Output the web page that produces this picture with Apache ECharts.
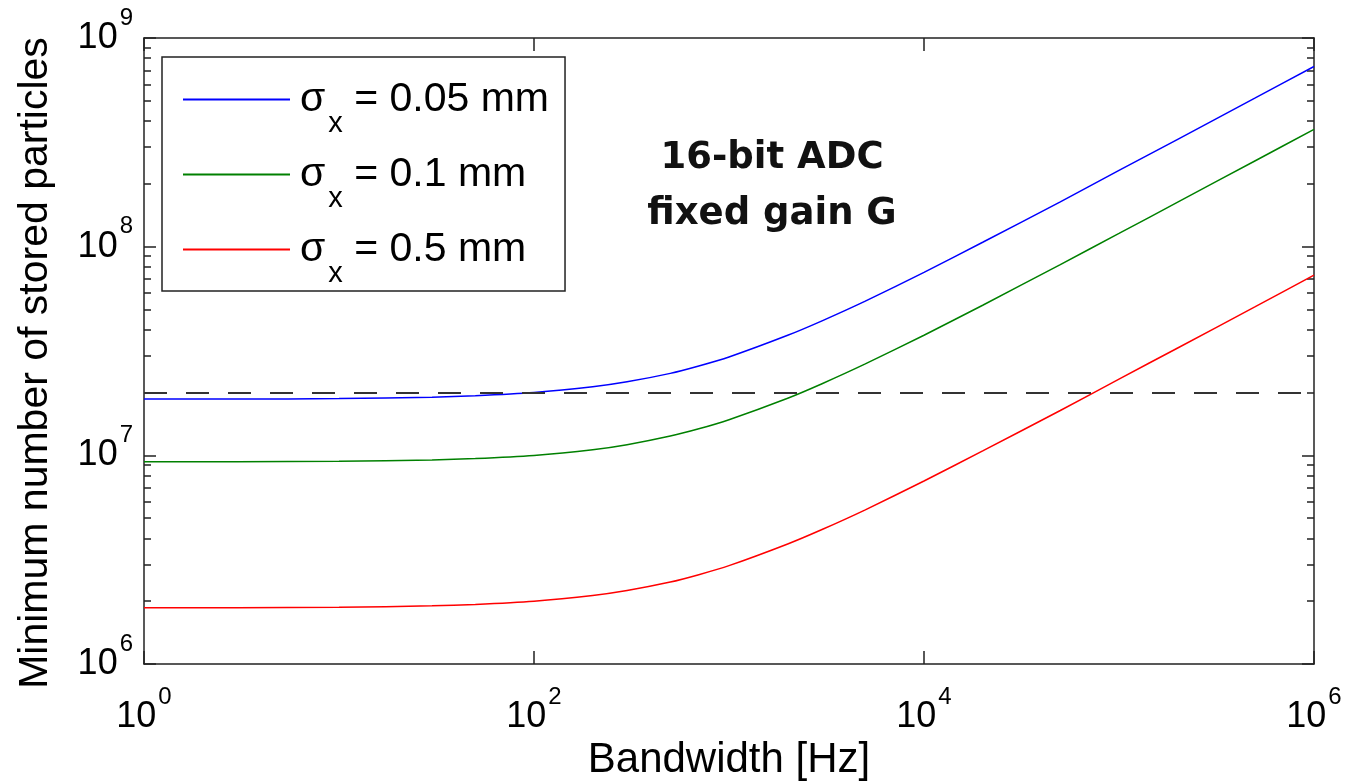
<!DOCTYPE html>
<html>
<head>
<meta charset="utf-8">
<title>Minimum number of stored particles vs bandwidth</title>
<script src="https://cdn.jsdelivr.net/npm/echarts@6/dist/echarts.min.js"></script>
<style>
  html, body { margin: 0; padding: 0; background: #fff; }
  #chart { width: 1349px; height: 781px; }
</style>
</head>
<body>
<div id="chart"></div>
<script>
// bandwidth samples [Hz] (log x axis)
const bandwidth = [1, 3, 10, 30, 50, 100, 200, 300, 500, 700, 1000, 2000, 3000, 5000, 1e4, 2e4, 5e4, 1e5, 2e5, 5e5, 1e6]
// minimum number of stored particles
const sigma005 = [1.86e7, 1.86e7, 1.87e7, 1.90e7, 1.93e7, 2.00e7, 2.13e7, 2.25e7, 2.47e7, 2.68e7, 2.96e7, 3.76e7, 4.41e7, 5.48e7, 7.53e7, 1.05e8, 1.64e8, 2.32e8, 3.27e8, 5.16e8, 7.30e8]
const sigma01 = [9.31e6, 9.32e6, 9.37e6, 9.51e6, 9.65e6, 9.99e6, 1.063e7, 1.124e7, 1.237e7, 1.34e7, 1.482e7, 1.878e7, 2.204e7, 2.742e7, 3.764e7, 5.24e7, 8.21e7, 1.157e8, 1.634e8, 2.581e8, 3.65e8]
const sigma05 = [1.86e6, 1.86e6, 1.87e6, 1.90e6, 1.93e6, 2.00e6, 2.13e6, 2.25e6, 2.47e6, 2.68e6, 2.96e6, 3.76e6, 4.41e6, 5.48e6, 7.53e6, 1.05e7, 1.64e7, 2.32e7, 3.27e7, 5.16e7, 7.30e7]
const seriesNames = ['0.05 mm', '0.1 mm', '0.5 mm']
// dashed reference level
const threshold = 2e7

// tick values
const xTicks = [1, 1e2, 1e4, 1e6]
const yTicks = [1e6, 1e7, 1e8, 1e9]
const yMinorTicks = [2e6, 3e6, 4e6, 5e6, 6e6, 7e6, 8e6, 9e6,
  2e7, 3e7, 4e7, 5e7, 6e7, 7e7, 8e7, 9e7,
  2e8, 3e8, 4e8, 5e8, 6e8, 7e8, 8e8, 9e8]

const FONT = '"Liberation Sans", Arial, Helvetica, sans-serif'
const AXIS_COLOR = '#222'

const pairs = (ys) => bandwidth.map((x, i) => [x, ys[i]])

// 10^n labels with a raised exponent
const powLabel = {
  formatter: (v) => '{b|10}{s|' + Math.round(Math.log10(v)) + '}',
  rich: {
    b: { fontSize: 36, lineHeight: 40, fontFamily: FONT, color: '#000', verticalAlign: 'middle' },
    s: { fontSize: 24, lineHeight: 24, fontFamily: FONT, color: '#000', padding: [0, 0, 40, 2], verticalAlign: 'middle' }
  }
}

const tickStyle = (len, values) => ({
  show: true,
  inside: true,
  length: len,
  customValues: values,
  lineStyle: { color: AXIS_COLOR, width: 1.5 }
})

const xAxisBase = {
  type: 'log',
  logBase: 10,
  min: 1,
  max: 1e6,
  splitLine: { show: false },
  axisLine: { show: true, onZero: false, lineStyle: { color: AXIS_COLOR, width: 1.5 } },
  axisTick: tickStyle(13, xTicks)
}

const yAxisBase = {
  type: 'log',
  logBase: 10,
  min: 1e6,
  max: 1e9,
  splitLine: { show: false },
  axisLine: { show: true, onZero: false, lineStyle: { color: AXIS_COLOR, width: 1.5 } },
  axisTick: tickStyle(12, yTicks)
}

const chart = echarts.init(document.getElementById('chart'), null, { renderer: 'canvas' })

chart.setOption({
  backgroundColor: '#fff',
  animation: false,
  grid: {
    left: 144,
    right: 35,
    top: 38,
    bottom: 117,
    containLabel: false,
    outerBoundsMode: 'none'
  },
  legend: {
    orient: 'vertical',
    left: 162,
    top: 57,
    align: 'left',
    selectedMode: false,
    icon: 'rect',
    itemWidth: 107,
    itemHeight: 2,
    itemGap: -2,
    padding: [4, 16, 3, 21],
    borderColor: AXIS_COLOR,
    borderWidth: 1.5,
    backgroundColor: '#fff',
    data: seriesNames,
    formatter: (name) => '{g|σ}{x|x}{t| = ' + name + '}',
    textStyle: {
      color: '#000',
      rich: {
        g: { fontSize: 41, lineHeight: 44, fontFamily: FONT, color: '#000', padding: [0, 0, 0, 5], verticalAlign: 'middle' },
        x: { fontSize: 29, lineHeight: 28, fontFamily: FONT, color: '#000', padding: [48, 0, 0, 3], verticalAlign: 'middle' },
        t: { fontSize: 41, lineHeight: 44, fontFamily: FONT, color: '#000', verticalAlign: 'middle' }
      }
    }
  },
  xAxis: [
    Object.assign({}, xAxisBase, {
      position: 'bottom',
      name: 'Bandwidth [Hz]',
      nameLocation: 'middle',
      nameGap: 75,
      nameMoveOverlap: false,
      nameTextStyle: { fontSize: 42, fontFamily: FONT, color: '#000' },
      axisLabel: Object.assign({ show: true, margin: 33, customValues: xTicks }, powLabel)
    }),
    Object.assign({}, xAxisBase, {
      position: 'top',
      axisLabel: { show: false }
    })
  ],
  yAxis: [
    Object.assign({}, yAxisBase, {
      position: 'left',
      name: 'Minimum number of stored particles',
      nameLocation: 'middle',
      nameGap: 88,
      nameRotate: 90,
      nameMoveOverlap: false,
      nameTextStyle: { fontSize: 41, fontFamily: FONT, color: '#000', padding: [0, 24, 0, 0] },
      axisLabel: Object.assign({ show: true, margin: 11, customValues: yTicks }, powLabel)
    }),
    Object.assign({}, yAxisBase, {
      position: 'right',
      axisLabel: { show: false }
    }),
    // minor decade ticks, left and right
    Object.assign({}, yAxisBase, {
      position: 'left',
      axisLine: { show: false },
      axisTick: tickStyle(7, yMinorTicks),
      axisLabel: { show: false }
    }),
    Object.assign({}, yAxisBase, {
      position: 'right',
      axisLine: { show: false },
      axisTick: tickStyle(7, yMinorTicks),
      axisLabel: { show: false }
    })
  ],
  graphic: [
    {
      type: 'text',
      x: 772,
      y: 186,
      silent: true,
      style: {
        text: '16-bit ADC\nfixed gain G',
        align: 'center',
        verticalAlign: 'middle',
        font: 'bold 37px "Comic Sans MS", "DejaVu Sans", sans-serif',
        lineHeight: 56,
        fill: '#111'
      }
    }
  ],
  series: [
    {
      name: seriesNames[0],
      type: 'line',
      data: pairs(sigma005),
      smooth: 0.2,
      symbol: 'none',
      color: '#0000ff',
      lineStyle: { width: 1.5 },
      markLine: {
        silent: true,
        symbol: 'none',
        label: { show: false },
        lineStyle: { color: '#333', width: 2, type: [23, 19] },
        data: [{ yAxis: threshold }]
      }
    },
    {
      name: seriesNames[1],
      type: 'line',
      data: pairs(sigma01),
      smooth: 0.2,
      symbol: 'none',
      color: '#008000',
      lineStyle: { width: 1.5 }
    },
    {
      name: seriesNames[2],
      type: 'line',
      data: pairs(sigma05),
      smooth: 0.2,
      symbol: 'none',
      color: '#ff0000',
      lineStyle: { width: 1.5 }
    }
  ]
})
</script>
</body>
</html>
